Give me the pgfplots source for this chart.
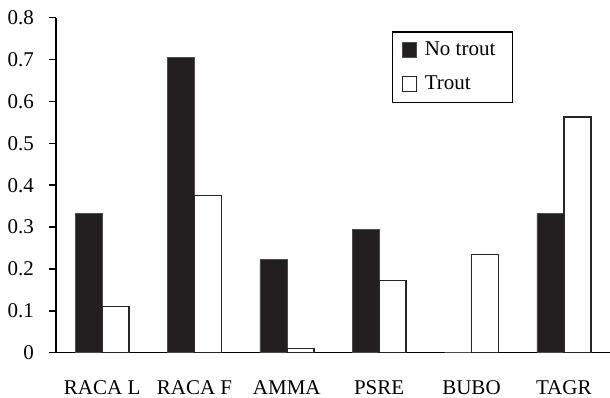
\documentclass[border=0pt]{standalone}
\usepackage{pgfplots}
\pgfplotsset{compat=1.18}
\usepackage{fontspec}
\setmainfont{Liberation Serif}
\definecolor{barblack}{HTML}{231F20}
\begin{document}
\fontsize{21}{25}\selectfont
\begin{tikzpicture}
\begin{axis}[
  at={(0,0)}, anchor=south west,
  scale only axis,
  width=554pt, height=335pt,
  xmin=-0.5, xmax=5.5,
  ymin=0, ymax=0.8,
  axis lines=left,
  axis line style={line width=1.4pt, -},
  ybar=0pt,
  bar width=27pt,
  xtick={0,1,2,3,4,5},
  xticklabels={RACA L, RACA F, AMMA, PSRE, BUBO, TAGR},
  x tick style={draw=none},
  extra x ticks={-0.5,0.5,1.5,2.5,3.5,4.5},
  extra x tick labels={},
  extra x tick style={tick align=outside, major tick length=8pt, tick style={line width=1.4pt, draw=black}},
  ytick={0,0.1,0.2,0.3,0.4,0.5,0.6,0.7,0.8},
  yticklabels={0,0.1,0.2,0.3,0.4,0.5,0.6,0.7,0.8},
  y tick style={line width=1.4pt, black},
  tick align=outside,
  major tick length=7pt,
  xticklabel style={yshift=-14pt},
  yticklabel style={xshift=-8pt},
  tick label style={font=\fontsize{21}{25}\selectfont},
  legend style={at={(0.6065,0.959)}, anchor=north west, draw=black, line width=1.2pt,
    font=\fontsize{21}{25}\selectfont, row sep=13pt, inner xsep=9pt, inner ysep=8pt,
    cells={anchor=west}},
  legend image code/.code={\draw[line width=1pt] (0pt,-7pt) rectangle (14pt,8pt); \path (20pt,0pt);},
  clip=false,
]
\addplot[fill=barblack, draw=gray!60!black, line width=0.6pt] coordinates {(0,0.333) (1,0.705) (2,0.222) (3,0.295) (4,0) (5,0.333)};
\addlegendentry{No trout\hspace*{6pt}}
\addplot[fill=white, draw=black!85, line width=1.4pt] coordinates {(0,0.110) (1,0.375) (2,0.010) (3,0.173) (4,0.235) (5,0.563)};
\addlegendentry{Trout}
\end{axis}
\pgfresetboundingbox
\useasboundingbox (-56pt,-45.3pt) rectangle (554pt,352.7pt);
\end{tikzpicture}
\end{document}
